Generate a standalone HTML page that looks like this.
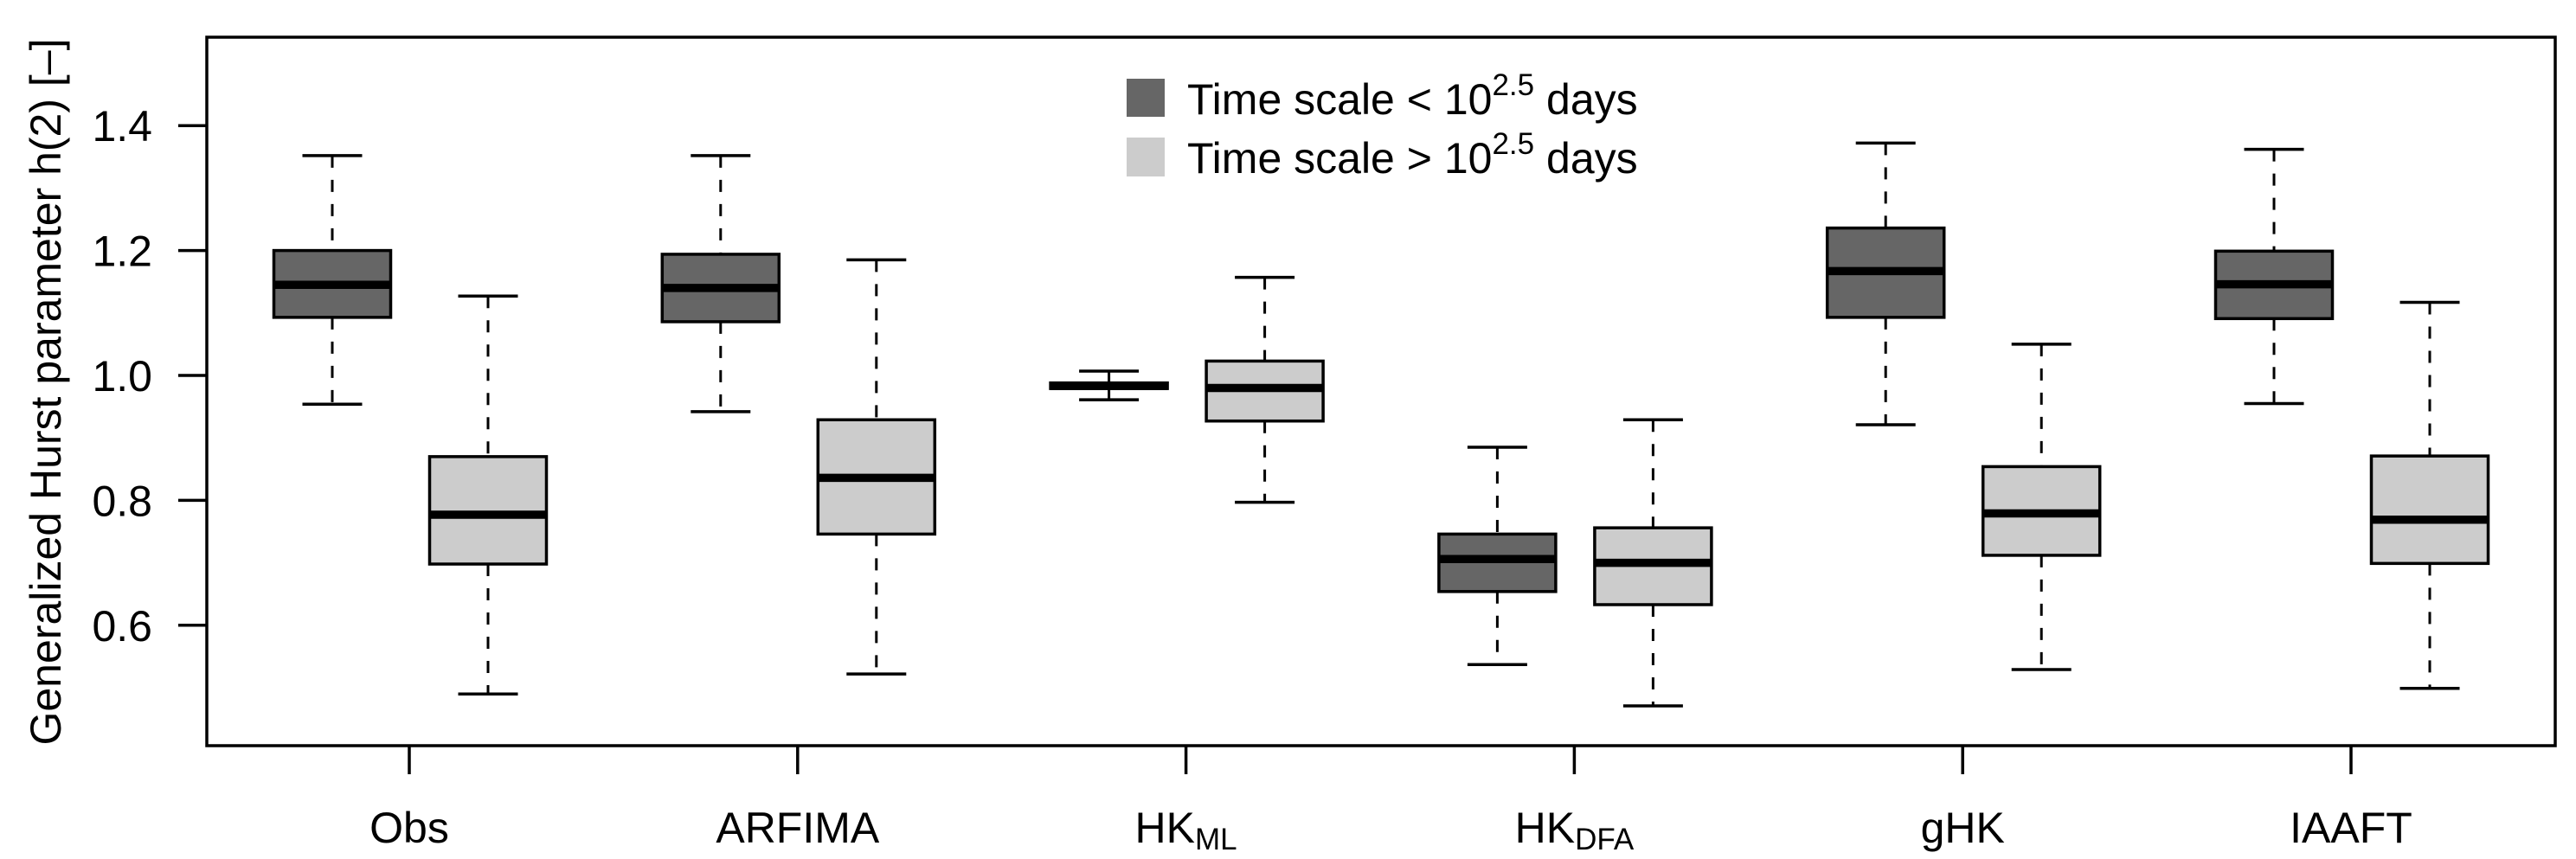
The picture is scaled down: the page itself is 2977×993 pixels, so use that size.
<!DOCTYPE html>
<html><head><meta charset="utf-8"><style>
html,body{margin:0;padding:0;background:#fff}
svg{display:block}
text{font-family:"Liberation Sans",Arial,sans-serif;fill:#000}
</style></head><body>
<svg id="chart" width="2977" height="993" viewBox="0 0 2977 993" xmlns="http://www.w3.org/2000/svg">
<rect x="239" y="43" width="2714" height="819" fill="none" stroke="#000" stroke-width="3.5"/>
<g id="yaxis"></g>
<g id="xaxis"></g>
<g id="boxes"></g>
<text transform="translate(70,453) rotate(-90)" text-anchor="middle" font-size="50">Generalized Hurst parameter h(2) [–]</text>
<g>
<rect x="1302" y="91" width="44" height="44" fill="#666666"/>
<rect x="1302" y="159" width="44" height="45" fill="#cccccc"/>
<text x="1372" y="132" font-size="50">Time scale &lt; 10<tspan dy="-22" font-size="35">2.5</tspan><tspan dy="22"> days</tspan></text>
<text x="1372" y="200" font-size="50">Time scale &gt; 10<tspan dy="-22" font-size="35">2.5</tspan><tspan dy="22"> days</tspan></text>
</g>
</svg>
<script>
const categories = ["Obs","ARFIMA","HK_ML","HK_DFA","gHK","IAAFT"];
const yTicks = [0.6,0.8,1.0,1.2,1.4];
const yTickLabels = ["0.6","0.8","1.0","1.2","1.4"];
// [min, q1, median, q3, max]
const shortScale = [
  [0.954,1.093,1.145,1.200,1.352],
  [0.942,1.086,1.140,1.194,1.352],
  [0.961,0.979,0.983,0.988,1.007],
  [0.537,0.654,0.706,0.746,0.885],
  [0.921,1.093,1.167,1.236,1.372],
  [0.955,1.091,1.146,1.199,1.362]
];
const longScale = [
  [0.490,0.698,0.777,0.870,1.127],
  [0.522,0.746,0.836,0.929,1.185],
  [0.797,0.927,0.980,1.023,1.157],
  [0.471,0.633,0.700,0.756,0.929],
  [0.529,0.712,0.779,0.854,1.050],
  [0.499,0.699,0.769,0.871,1.117]
];
const NS="http://www.w3.org/2000/svg";
function y(v){return 434-(v-1)*722;}
function x(i){return 473+i*448.8;}
function mk(tag,attrs,parent){const e=document.createElementNS(NS,tag);for(const k in attrs)e.setAttribute(k,attrs[k]);parent.appendChild(e);return e;}
const ya=document.getElementById('yaxis');
yTicks.forEach((t,i)=>{
  const l=mk('line',{x1:206,x2:239,y1:y(t),y2:y(t),stroke:'#000','stroke-width':3.5},ya);
  
  
  const tx=mk('text',{x:176,y:y(t)+18,'text-anchor':'end','font-size':50},ya);
  tx.textContent=yTickLabels[i];
  
  
});
const xa=document.getElementById('xaxis');
categories.forEach((c,i)=>{
  const l=mk('line',{x1:x(i),x2:x(i),y1:862,y2:895,stroke:'#000','stroke-width':3.5},xa);
  
  
  const tx=mk('text',{x:x(i),y:974,'text-anchor':'middle','font-size':50},xa);
  const parts=c.split('_');
  tx.appendChild(document.createTextNode(parts[0]));
  if(parts[1]){const s=mk('tspan',{'font-size':35,dy:8},tx);s.textContent=parts[1];}
  
  
});
const bx=document.getElementById('boxes');
function drawBox(cx,d,fill,name){
  const g=mk('g',{},bx);
  
  
  const hw=67.5,cw=34.5;
  mk('line',{x1:cx,x2:cx,y1:y(d[4]),y2:y(d[3]),stroke:'#000','stroke-width':3,'stroke-dasharray':'14 14'},g);
  mk('line',{x1:cx,x2:cx,y1:y(d[1]),y2:y(d[0]),stroke:'#000','stroke-width':3,'stroke-dasharray':'14 14'},g);
  mk('line',{x1:cx-cw,x2:cx+cw,y1:y(d[4]),y2:y(d[4]),stroke:'#000','stroke-width':3.5},g);
  mk('line',{x1:cx-cw,x2:cx+cw,y1:y(d[0]),y2:y(d[0]),stroke:'#000','stroke-width':3.5},g);
  mk('rect',{x:cx-hw,y:y(d[3]),width:2*hw,height:y(d[1])-y(d[3]),fill:fill,stroke:'#000','stroke-width':3.5},g);
  mk('line',{x1:cx-hw,x2:cx+hw,y1:y(d[2]),y2:y(d[2]),stroke:'#000','stroke-width':9.5},g);
}
categories.forEach((c,i)=>{
  drawBox(x(i)-89,shortScale[i],'#666666','box-short-'+c.toLowerCase());
  drawBox(x(i)+91,longScale[i],'#cccccc','box-long-'+c.toLowerCase());
});
</script>
</body></html>
